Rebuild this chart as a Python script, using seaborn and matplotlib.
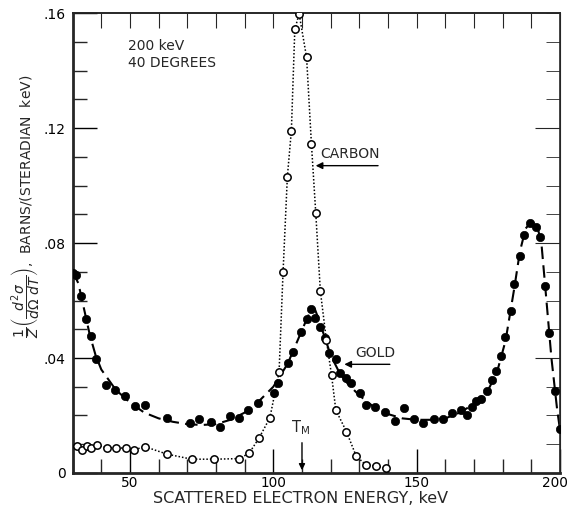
import matplotlib
matplotlib.use("Agg")
import matplotlib.pyplot as plt
import matplotlib.transforms as mtrans
from matplotlib.ticker import MultipleLocator, FixedLocator
import seaborn as sns
import pandas as pd

# ---- data ----
gold_x = [30.0, 31.2, 33.0, 34.8, 36.4, 38.2, 41.7, 44.9, 48.4, 51.7, 55.1, 63.0, 71.1, 74.1,
          78.1, 81.4, 84.8, 88.0, 91.2, 94.6, 100.2, 101.7, 105.2, 106.7, 109.5, 111.8, 113.3,
          114.5, 116.2, 117.9, 119.3, 121.8, 123.4, 125.5, 127.2, 130.1, 132.5, 135.4, 138.8,
          142.3, 145.6, 149.1, 152.2, 156.0, 159.2, 162.4, 165.6, 167.5, 169.2, 170.8, 172.5,
          174.5, 176.4, 177.8, 179.3, 180.7, 182.8, 184.1, 185.9, 187.3, 189.6, 191.5, 193.1,
          194.6, 196.1, 198.1, 199.9]
gold_y = [0.0695, 0.0689, 0.0617, 0.0536, 0.0478, 0.0395, 0.0305, 0.0289, 0.0269, 0.0233,
          0.0235, 0.0192, 0.0173, 0.0189, 0.0178, 0.0161, 0.0198, 0.0192, 0.0218, 0.0245,
          0.0277, 0.0312, 0.0382, 0.0422, 0.0492, 0.0535, 0.0570, 0.0538, 0.0507, 0.0468,
          0.0418, 0.0395, 0.0349, 0.0329, 0.0312, 0.0277, 0.0237, 0.0231, 0.0213, 0.0180,
          0.0225, 0.0187, 0.0175, 0.0187, 0.0187, 0.0210, 0.0219, 0.0202, 0.0231, 0.0251,
          0.0256, 0.0286, 0.0323, 0.0356, 0.0407, 0.0474, 0.0565, 0.0657, 0.0755, 0.0828,
          0.0868, 0.0857, 0.0820, 0.0650, 0.0488, 0.0286, 0.0152]

gold_curve_x = [30, 32, 34, 36, 38, 40, 45, 50, 55, 60, 65, 70, 75, 80, 85, 90, 95, 100, 105,
                108, 111, 113, 114.5, 116, 118, 120, 123, 126, 130, 135, 140, 145, 150, 155,
                160, 165, 170, 175, 178, 181, 184, 186, 188, 190, 192, 193.5, 195, 197, 199, 200]
gold_curve_y = [0.070, 0.066, 0.057, 0.048, 0.041, 0.036, 0.029, 0.0245, 0.021, 0.019, 0.0178,
                0.017, 0.0167, 0.017, 0.0185, 0.021, 0.025, 0.030, 0.038, 0.045, 0.052, 0.0565,
                0.057, 0.053, 0.047, 0.041, 0.035, 0.031, 0.027, 0.023, 0.0205, 0.019, 0.0185,
                0.0185, 0.019, 0.021, 0.024, 0.029, 0.035, 0.046, 0.064, 0.077, 0.085, 0.0875,
                0.086, 0.080, 0.063, 0.040, 0.022, 0.015]

carbon_x = [31.5, 33.3, 35.0, 36.4, 38.4, 41.9, 45.1, 48.6, 51.4, 55.1, 62.8, 71.5, 79.4, 88.0,
            91.5, 95.0, 98.8, 102.0, 103.4, 104.9, 106.3, 107.5, 109.0, 111.6, 113.3, 114.8,
            116.4, 118.5, 120.3, 121.8, 125.5, 128.9, 132.3, 135.8, 139.3]
carbon_y = [0.0093, 0.0079, 0.0095, 0.0086, 0.0097, 0.0088, 0.0088, 0.0086, 0.0080, 0.0092,
            0.0066, 0.0048, 0.0048, 0.0050, 0.0068, 0.0121, 0.0192, 0.0350, 0.0699, 0.1031,
            0.1191, 0.1543, 0.1597, 0.1446, 0.1143, 0.0905, 0.0633, 0.0463, 0.0341, 0.0219,
            0.0144, 0.0059, 0.0028, 0.0025, 0.0016]

x_ticks = [50, 100, 150, 200]
x_ticklabels = ["50", "100", "150", "200"]
y_ticks = [0, 0.04, 0.08, 0.12, 0.16]
y_ticklabels = ["0", ".04", ".08", ".12", ".16"]

gold_df = pd.DataFrame({"E": gold_x, "v": gold_y})
gold_curve_df = pd.DataFrame({"E": gold_curve_x, "v": gold_curve_y})
carbon_df = pd.DataFrame({"E": carbon_x, "v": carbon_y})

sns.set_style("ticks")
plt.rcParams["font.family"] = ["DejaVu Sans"]
plt.rcParams["mathtext.fontset"] = "dejavusans"

fig = plt.figure(figsize=(5.70, 5.08), dpi=100)
ax = fig.add_axes([0.1274, 0.0689, 0.9825 - 0.1274, 0.9744 - 0.0689])

sns.lineplot(data=gold_curve_df, x="E", y="v", ax=ax, color="black", lw=1.5,
             dashes=False, sort=False, estimator=None, linestyle=(0, (6, 3)))
sns.lineplot(data=carbon_df, x="E", y="v", ax=ax, color="black", lw=1.1,
             sort=False, estimator=None, linestyle=(0, (1, 1.3)))
sns.scatterplot(data=gold_df, x="E", y="v", ax=ax, color="black", s=36,
                edgecolor="black", linewidth=0.5, zorder=5)
sns.scatterplot(data=carbon_df, x="E", y="v", ax=ax, facecolor="white", s=28,
                edgecolor="black", linewidth=1.1, zorder=6)

ax.set_xlim(30, 200)
ax.set_ylim(0, 0.16)
ax.xaxis.set_major_locator(FixedLocator(x_ticks))
ax.set_xticklabels(x_ticklabels)
ax.xaxis.set_minor_locator(MultipleLocator(10))
ax.yaxis.set_major_locator(FixedLocator(y_ticks))
ax.set_yticklabels(y_ticklabels)
ax.yaxis.set_minor_locator(MultipleLocator(0.01))

ax.tick_params(axis="both", which="major", direction="in", length=17, width=1.0,
               colors="black")
ax.tick_params(axis="x", which="major", labelsize=9.8, pad=2)
ax.tick_params(axis="y", which="major", labelsize=10, pad=5)
ax.tick_params(axis="both", which="minor", direction="in", length=10, width=1.0)

# nudge the last x tick label ("200") left so it stays inside the figure
last_lbl = ax.get_xticklabels()[-1]
last_lbl.set_transform(last_lbl.get_transform() +
                       mtrans.ScaledTranslation(-0.05, 0, fig.dpi_scale_trans))

for side in ["left", "bottom"]:
    ax.spines[side].set_linewidth(2.0)
for side in ["top", "right"]:
    ax.spines[side].set_visible(True)
    ax.spines[side].set_linewidth(1.2)

# top / right tick marks
secx = ax.secondary_xaxis("top")
secx.set_xticks(list(range(40, 200, 10)))
secx.tick_params(direction="in", length=11, labeltop=False)
secx.spines["top"].set_linewidth(1.2)
secy = ax.secondary_yaxis("right")
secy.yaxis.set_major_locator(FixedLocator([0.04, 0.08, 0.12]))
secy.yaxis.set_minor_locator(MultipleLocator(0.01))
secy.tick_params(which="major", direction="in", length=18, labelright=False)
secy.tick_params(which="minor", direction="in", length=10)

ax.set_xlabel("SCATTERED ELECTRON ENERGY, keV", fontsize=11.5)
ax.xaxis.set_label_coords(0.467, -0.039)
ax.set_ylabel(r"$\dfrac{1}{Z}\left(\dfrac{d^2\sigma}{d\Omega\ dT}\right)$,  BARNS/(STERADIAN  keV)",
              fontsize=10)
ax.yaxis.set_label_coords(-0.06, 0.58)

ax.text(49.3, 0.151, "200 keV\n40 DEGREES", fontsize=10, va="top", ha="left",
        linespacing=1.3)

# CARBON label with arrow
ax.annotate("", xy=(113.8, 0.1069), xytext=(137.5, 0.1069),
            arrowprops=dict(arrowstyle="-|>", color="black", lw=1.0, mutation_scale=10))
ax.text(116.2, 0.1085, "CARBON", fontsize=10, ha="left", va="bottom")

# GOLD label with arrow
ax.annotate("", xy=(123.8, 0.0378), xytext=(141.6, 0.0378),
            arrowprops=dict(arrowstyle="-|>", color="black", lw=1.0, mutation_scale=10))
ax.text(128.6, 0.0393, "GOLD", fontsize=10, ha="left", va="bottom")

# T_M marker
ax.annotate("", xy=(110.0, 0.0), xytext=(110.0, 0.0115),
            arrowprops=dict(arrowstyle="-|>", color="black", lw=1.0, mutation_scale=9))
ax.text(109.6, 0.0125, r"T$_{\mathrm{M}}$", fontsize=10.5, ha="center", va="bottom")

fig.savefig("out.png", dpi=100, facecolor="white")
